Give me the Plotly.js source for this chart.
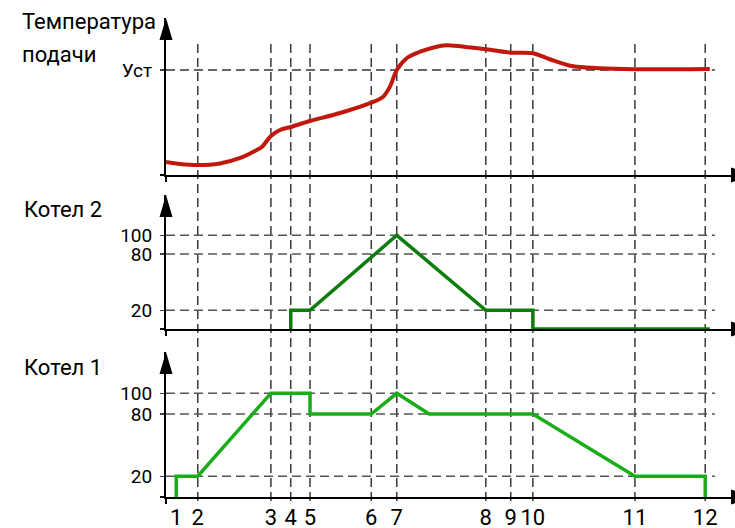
<!DOCTYPE html>
<html><head><meta charset="utf-8">
<script src="https://cdn.plot.ly/plotly-3.0.1.min.js"></script>
<style>html,body{margin:0;padding:0;background:#fff}#chart{width:735px;height:528px}</style>
</head><body><div id="chart"></div>
<script>
// Event moments (time units, axis 0..100)
const eventLabels = ['1','2','3','4','5','6','7','8','9','10','11','12'];
const eventTimes  = [1.8, 5.6, 18.5, 22.0, 25.4, 36.2, 40.7, 56.4, 60.8, 64.7, 82.7, 95.1];

// Supply temperature (arbitrary units, setpoint Уст = 100)
const tempTime  = [0, 2.5, 5.6, 9.5, 13.1, 15.7, 16.9, 18.5, 20.1, 22.0, 25.4, 30.7, 36.2, 38.3, 39.5, 40.7, 42.5, 44.8, 48.3, 49.5, 56.4, 60.8, 64.7, 67.7, 71.3, 76.5, 82.7, 95.9];
const tempValue = [12.4, 10.5, 9.5, 11, 16.2, 22.9, 26.7, 37.1, 42.9, 45.7, 51.4, 59, 68.9, 74.6, 84.1, 100, 111.4, 117.4, 122.9, 123.6, 119.7, 116.5, 115.9, 110.2, 104.1, 101.6, 100.7, 101];
const tempSetpoint = 100;
const tempTickText = 'Уст';

// Boiler 2 load, %
const k2Time  = [22.0, 22.0, 25.4, 40.7, 56.4, 64.7, 64.7, 95.9];
const k2Value = [0, 20, 20, 100, 20, 20, 0, 0];

// Boiler 1 load, %
const k1Time  = [1.8, 1.8, 5.6, 18.5, 25.4, 25.4, 36.2, 40.7, 46.4, 64.7, 82.7, 95.1, 95.1];
const k1Value = [0, 20, 20, 100, 100, 80, 80, 100, 80, 80, 20, 20, 0];

const loadTicks = [20, 80, 100];

const FONT = 'Roboto, "DejaVu Sans", sans-serif';
const H = 497; // plot area height in px (t margin 0)
const p = px => (H - px) / H;           // pixel row -> paper y
const px2x = px => (px - 166) / 569;    // pixel col -> paper x

const dom3 = [p(175), p(18)];
const dom2 = [p(329), p(195)];
const dom1 = [p(497), p(352)];

const traces = [
  {x: tempTime, y: tempValue, xaxis: 'x3', yaxis: 'y3', mode: 'lines',
   line: {color: '#c0180c', width: 4, shape: 'spline', smoothing: 0.9}, hoverinfo: 'skip'},
  {x: k2Time, y: k2Value, xaxis: 'x2', yaxis: 'y2', mode: 'lines',
   line: {color: '#0b7d0b', width: 3.5}, hoverinfo: 'skip'},
  {x: k1Time, y: k1Value, xaxis: 'x', yaxis: 'y', mode: 'lines',
   line: {color: '#1aad1a', width: 3.5}, hoverinfo: 'skip'}
];

const xCommon = {range: [0, 100.35], showgrid: false, zeroline: false, showline: true,
  linecolor: '#000', linewidth: 2, ticks: '', fixedrange: true};
const yCommon = {showgrid: false, zeroline: false, showline: true, linecolor: '#000',
  linewidth: 2, ticks: 'outside', ticklen: 4, tickwidth: 1.5, tickcolor: '#444',
  tickfont: {family: FONT, size: 19, color: '#000'},
  ticklabelstandoff: 4, fixedrange: true};

const shapes = [];
// vertical event lines
eventTimes.slice(1).forEach(t => shapes.push({type: 'line', xref: 'x', yref: 'paper',
  x0: t, x1: t, y0: p(501), y1: p(40), layer: 'below',
  line: {color: '#3a3a3a', width: 1.5, dash: '9px,5px'}}));
// horizontal level lines
shapes.push({type: 'line', xref: 'x3', yref: 'y3', x0: 0, x1: 96.8, y0: tempSetpoint, y1: tempSetpoint,
  layer: 'below', line: {color: '#666', width: 1.8, dash: '9px,5px'}});
loadTicks.forEach(v => {
  ['y2', 'y'].forEach((yr, i) => shapes.push({type: 'line', xref: i ? 'x' : 'x2', yref: yr,
    x0: 0, x1: 96.8, y0: v, y1: v, layer: 'below',
    line: {color: '#555', width: 1.5, dash: '9px,5px'}}));
});
// arrow heads (y axes)
[dom3[1], dom2[1], dom1[1]].forEach(yt => shapes.push({type: 'path', xref: 'paper', yref: 'paper',
  xsizemode: 'pixel', ysizemode: 'pixel', xanchor: 0, yanchor: yt,
  path: 'M -6.5 -22 L 6.5 -22 L 0 0 Z', fillcolor: '#000', line: {width: 0}}));
// arrow heads (x axes) + axis stubs
[dom3[0], dom2[0], dom1[0]].forEach(yb => {
  shapes.push({type: 'path', xref: 'paper', yref: 'paper',
    xsizemode: 'pixel', ysizemode: 'pixel', xanchor: 1, yanchor: yb,
    path: 'M -4 -7.5 L -4 7.5 L 20 0 Z', fillcolor: '#000', line: {width: 0}});
  shapes.push({type: 'path', xref: 'paper', yref: 'paper',
    xsizemode: 'pixel', ysizemode: 'pixel', xanchor: 0, yanchor: yb,
    path: 'M -6 0 L 0 0 M 0 0 L 0 -7', line: {color: '#000', width: 2}});
});

const ann = (text, pxx, pyy) => ({text, xref: 'paper', yref: 'paper', x: px2x(pxx), y: p(pyy),
  xanchor: 'left', yanchor: 'middle', showarrow: false, font: {family: FONT, size: 22, color: '#000'}});

const layout = {
  width: 735, height: 528, margin: {l: 166, r: 0, t: 0, b: 31},
  paper_bgcolor: '#fff', plot_bgcolor: 'rgba(0,0,0,0)', showlegend: false,
  xaxis: Object.assign({}, xCommon, {anchor: 'y', tickvals: eventTimes, ticktext: eventLabels,
    tickangle: 0, tickfont: {family: FONT, size: 22, color: '#000'}, ticklabelstandoff: 0}),
  xaxis2: Object.assign({}, xCommon, {anchor: 'y2', matches: 'x', showticklabels: false}),
  xaxis3: Object.assign({}, xCommon, {anchor: 'y3', matches: 'x', showticklabels: false}),
  yaxis: Object.assign({}, yCommon, {domain: dom1, range: [0, 139.8], tickvals: loadTicks, ticktext: loadTicks.map(String)}),
  yaxis2: Object.assign({}, yCommon, {domain: dom2, range: [0, 143], tickvals: loadTicks, ticktext: loadTicks.map(String)}),
  yaxis3: Object.assign({}, yCommon, {domain: dom3, range: [0, 149.5], tickvals: [tempSetpoint], ticktext: [tempTickText]}),
  shapes,
  annotations: [ann('Температура', 20, 22), ann('подачи', 20, 54), ann('Котел 2', 22, 209), ann('Котел 1', 22, 367)]
};

Plotly.newPlot('chart', traces, layout, {staticPlot: true, displayModeBar: false});
</script></body></html>
